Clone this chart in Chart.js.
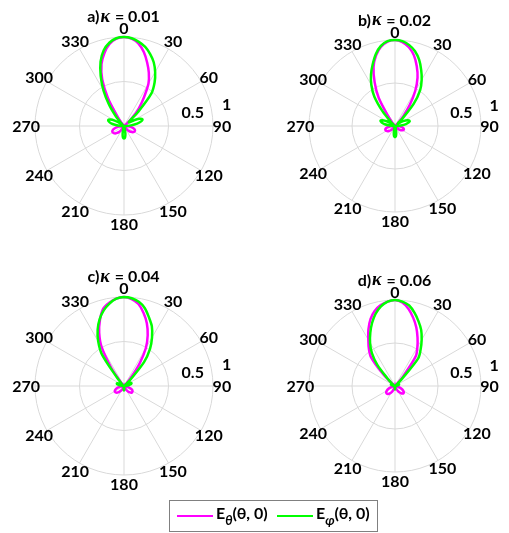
<!DOCTYPE html>
<html>
<head>
<meta charset="utf-8">
<script src="https://cdn.jsdelivr.net/npm/chart.js@4.4.1/dist/chart.umd.min.js"></script>
<style>
  body { margin: 0; background: #fff; }
  #page { position: relative; width: 509px; height: 533px; overflow: hidden; }
  canvas { position: absolute; }
  #legend { position: absolute; left: 169px; top: 500px; width: 207px; height: 30px;
            border: 1px solid #808080; font: bold 16px Lato, sans-serif; color: #000; }
  #legend .sw { position: absolute; top: 14px; height: 2px; width: 36px; }
  #legend .lab { position: absolute; top: 3px; white-space: nowrap; line-height: 18px; }
  #legend sub { font-size: 13px; font-style: italic; vertical-align: -6px; line-height: 0; }
</style>
</head>
<body>
<div id="page">
  <canvas id="chartA" width="240" height="250" style="left:0;top:0"></canvas>
  <canvas id="chartB" width="235" height="250" style="left:274px;top:0"></canvas>
  <canvas id="chartC" width="240" height="250" style="left:0;top:260px"></canvas>
  <canvas id="chartD" width="235" height="250" style="left:274px;top:260px"></canvas>
  <div id="legend">
    <span class="sw" style="left:7px;background:#ff00ff"></span>
    <span class="lab" style="left:46px">E<sub>θ</sub>(θ, 0)</span>
    <span class="sw" style="left:107px;background:#00ff00"></span>
    <span class="lab" style="left:146px">E<sub>φ</sub>(θ, 0)</span>
  </div>
</div>
<script>
// angle of every sample, degrees (0 at top, clockwise)
const ANGLES = [0, 5, 10, 15, 20, 25, 30, 35, 40, 45, 50, 55,
  60, 65, 70, 75, 80, 85, 90, 95, 100, 105, 110, 115,
  120, 125, 130, 135, 140, 145, 150, 155, 160, 165, 170, 175,
  180, 185, 190, 195, 200, 205, 210, 215, 220, 225, 230, 235,
  240, 245, 250, 255, 260, 265, 270, 275, 280, 285, 290, 295,
  300, 305, 310, 315, 320, 325, 330, 335, 340, 345, 350, 355];

const ANGLE_TICKS = [0, 30, 60, 90, 120, 150, 180, 210, 240, 270, 300, 330];
const RADIAL_TICKS = [0.5, 1];

const PANEL_LETTERS = ['a)', 'b)', 'c)', 'd)'];
const KAPPAS = ['0.01', '0.02', '0.04', '0.06'];

// normalised patterns
const E_THETA_A = [1.00, 0.985, 0.94, 0.86, 0.76, 0.66, 0.55, 0.39, 0.26, 0.13, 0.04, 0.01,
  0, 0, 0, 0, 0, 0.005, 0.02, 0.05, 0.09, 0.115, 0.13, 0.135,
  0.13, 0.12, 0.10, 0.08, 0.055, 0.03, 0.01, 0, 0, 0, 0, 0,
  0, 0, 0, 0, 0, 0.01, 0.03, 0.06, 0.09, 0.11, 0.13, 0.14,
  0.145, 0.145, 0.135, 0.115, 0.085, 0.05, 0.02, 0.005, 0, 0, 0, 0,
  0, 0, 0, 0, 0.02, 0.12, 0.36, 0.58, 0.74, 0.85, 0.935, 0.985];
const E_PHI_A = [1.00, 0.99, 0.96, 0.92, 0.86, 0.79, 0.70, 0.60, 0.48, 0.22, 0.07, 0.07,
  0.13, 0.19, 0.22, 0.20, 0.15, 0.08, 0.02, 0, 0, 0, 0, 0,
  0, 0, 0, 0, 0, 0, 0, 0, 0, 0.03, 0.09, 0.13,
  0.14, 0.13, 0.09, 0.03, 0, 0, 0, 0, 0, 0, 0, 0,
  0, 0, 0, 0, 0, 0, 0.02, 0.07, 0.13, 0.17, 0.19, 0.17,
  0.12, 0.05, 0.02, 0.05, 0.14, 0.29, 0.46, 0.62, 0.77, 0.88, 0.95, 0.99];

const E_THETA_B = [1.00, 0.98, 0.93, 0.85, 0.74, 0.62, 0.47, 0.30, 0.15, 0.05, 0.01, 0,
  0, 0, 0, 0, 0, 0, 0.02, 0.05, 0.08, 0.10, 0.11, 0.11,
  0.10, 0.085, 0.065, 0.045, 0.025, 0.01, 0, 0, 0, 0, 0, 0,
  0, 0, 0, 0, 0, 0, 0.01, 0.03, 0.05, 0.07, 0.09, 0.105,
  0.115, 0.12, 0.12, 0.11, 0.09, 0.06, 0.03, 0.01, 0, 0, 0, 0,
  0, 0, 0, 0, 0.03, 0.14, 0.38, 0.56, 0.73, 0.85, 0.935, 0.985];
const E_PHI_B = [1.00, 0.99, 0.955, 0.90, 0.82, 0.72, 0.62, 0.51, 0.34, 0.12, 0.04, 0.07,
  0.12, 0.16, 0.18, 0.17, 0.13, 0.07, 0.02, 0, 0, 0, 0, 0,
  0, 0, 0, 0, 0, 0, 0, 0, 0, 0.03, 0.08, 0.12,
  0.13, 0.12, 0.08, 0.03, 0, 0, 0, 0, 0, 0, 0, 0,
  0, 0, 0, 0, 0, 0, 0.02, 0.06, 0.12, 0.16, 0.18, 0.16,
  0.11, 0.05, 0.02, 0.07, 0.23, 0.42, 0.55, 0.66, 0.76, 0.865, 0.945, 0.99];

const E_THETA_C = [1.00, 0.98, 0.935, 0.85, 0.75, 0.63, 0.49, 0.30, 0.12, 0.03, 0, 0,
  0, 0, 0, 0, 0, 0, 0, 0.01, 0.03, 0.055, 0.08, 0.10,
  0.11, 0.115, 0.115, 0.105, 0.09, 0.07, 0.045, 0.02, 0.01, 0, 0, 0,
  0, 0, 0, 0, 0.01, 0.03, 0.05, 0.07, 0.09, 0.105, 0.115, 0.12,
  0.12, 0.11, 0.095, 0.075, 0.05, 0.025, 0.01, 0, 0, 0, 0, 0,
  0, 0, 0, 0.01, 0.06, 0.25, 0.50, 0.66, 0.79, 0.90, 0.95, 0.985];
const E_PHI_C = [1.00, 0.99, 0.96, 0.905, 0.82, 0.74, 0.63, 0.51, 0.35, 0.10, 0.02, 0.03,
  0.06, 0.085, 0.09, 0.08, 0.05, 0.02, 0, 0, 0, 0, 0, 0,
  0, 0, 0, 0, 0, 0, 0, 0, 0, 0, 0.02, 0.04,
  0.05, 0.04, 0.02, 0, 0, 0, 0, 0, 0, 0, 0, 0,
  0, 0, 0, 0, 0, 0, 0, 0.02, 0.05, 0.08, 0.085, 0.07,
  0.04, 0.02, 0.03, 0.04, 0.12, 0.43, 0.58, 0.70, 0.80, 0.88, 0.94, 0.985];

const E_THETA_D = [1.00, 0.975, 0.91, 0.82, 0.725, 0.62, 0.52, 0.42, 0.15, 0.02, 0, 0,
  0, 0, 0, 0, 0, 0, 0, 0.01, 0.02, 0.04, 0.065, 0.09,
  0.11, 0.125, 0.13, 0.125, 0.11, 0.09, 0.065, 0.04, 0.02, 0.01, 0, 0,
  0, 0, 0, 0.01, 0.03, 0.06, 0.085, 0.105, 0.12, 0.13, 0.13, 0.125,
  0.11, 0.09, 0.065, 0.04, 0.02, 0.01, 0, 0, 0, 0, 0, 0,
  0, 0.01, 0.04, 0.20, 0.43, 0.53, 0.62, 0.73, 0.83, 0.905, 0.955, 0.985];
const E_PHI_D = [1.00, 0.985, 0.95, 0.88, 0.80, 0.72, 0.62, 0.52, 0.42, 0.10, 0.02, 0.02,
  0.04, 0.05, 0.05, 0.04, 0.02, 0, 0, 0, 0, 0, 0, 0,
  0, 0, 0, 0, 0, 0, 0, 0, 0, 0, 0.01, 0.03,
  0.04, 0.03, 0.01, 0, 0, 0, 0, 0, 0, 0, 0, 0,
  0, 0, 0, 0, 0, 0, 0, 0, 0.02, 0.04, 0.05, 0.05,
  0.03, 0.02, 0.05, 0.12, 0.32, 0.47, 0.58, 0.68, 0.78, 0.87, 0.94, 0.985];

const LABEL_FONT = 'bold 16px Lato, sans-serif';

// matlab style labels: angles centred at 1.1 R, radii off to the side, title on top
const polarLabels = {
  id: 'polarLabels',
  afterDraw(chart, args, opts) {
    const s = chart.scales.r;
    const ctx = chart.ctx;
    const R = s.drawingArea;
    const cx = s.xCenter, cy = s.yCenter;
    ctx.save();
    ctx.fillStyle = '#000';
    ctx.font = LABEL_FONT;
    ctx.textAlign = 'center';
    ctx.textBaseline = 'middle';
    ANGLE_TICKS.forEach(a => {
      const rad = a * Math.PI / 180;
      ctx.fillText(String(a), cx + 1.1 * R * Math.sin(rad), cy - 1.1 * R * Math.cos(rad) + 1);
    });
    const rAng = 78 * Math.PI / 180;
    RADIAL_TICKS.forEach(v => {
      const d = R * (0.4 + 0.78 * v);
      ctx.fillText(String(v), cx + d * Math.sin(rAng), cy - d * Math.cos(rAng) + 1);
    });

    // title: letter, italic kappa, value
    const parts = [
      { t: opts.letter, f: LABEL_FONT },
      { t: '\u03BA', f: 'italic bold 18px "Liberation Serif", serif' },
      { t: ' = ' + opts.kappa, f: LABEL_FONT }
    ];
    let total = 0;
    parts.forEach(p => { ctx.font = p.f; p.w = ctx.measureText(p.t).width; total += p.w + 1; });
    let x = cx - total / 2;
    const ty = cy - 1.236 * R + 1;
    ctx.textAlign = 'left';
    parts.forEach(p => { ctx.font = p.f; ctx.fillText(p.t, x, ty); x += p.w + 1; });
    ctx.restore();
  }
};

function makeChart(id, idx, eTheta, ePhi) {
  return new Chart(document.getElementById(id), {
    type: 'radar',
    data: {
      labels: ANGLES,
      datasets: [
        { label: 'E\u03B8(\u03B8, 0)', data: eTheta, borderColor: '#ff00ff', borderWidth: 2.5,
          pointRadius: 0, fill: false, tension: 0.3, order: 1 },
        { label: 'E\u03C6(\u03B8, 0)', data: ePhi, borderColor: '#00ff00', borderWidth: 2.5,
          pointRadius: 0, fill: false, tension: 0.3, order: 0 }
      ]
    },
    options: {
      responsive: false,
      animation: false,
      events: [],
      layout: { padding: { left: 35, top: 37, right: 240 - 35 - 178, bottom: 35 } },
      plugins: {
        legend: { display: false },
        tooltip: { enabled: false },
        polarLabels: { letter: PANEL_LETTERS[idx], kappa: KAPPAS[idx] }
      },
      scales: {
        r: {
          min: 0,
          max: 1,
          ticks: { display: false, stepSize: 0.5 },
          grid: { circular: true, color: '#d9d9d9', lineWidth: 1 },
          angleLines: {
            color: '#d9d9d9',
            lineWidth: c => (c.index % 6 === 0 ? 1 : 0)
          },
          pointLabels: { display: false }
        }
      }
    },
    plugins: [polarLabels]
  });
}

makeChart('chartA', 0, E_THETA_A, E_PHI_A);
makeChart('chartB', 1, E_THETA_B, E_PHI_B);
makeChart('chartC', 2, E_THETA_C, E_PHI_C);
makeChart('chartD', 3, E_THETA_D, E_PHI_D);
</script>
</body>
</html>
